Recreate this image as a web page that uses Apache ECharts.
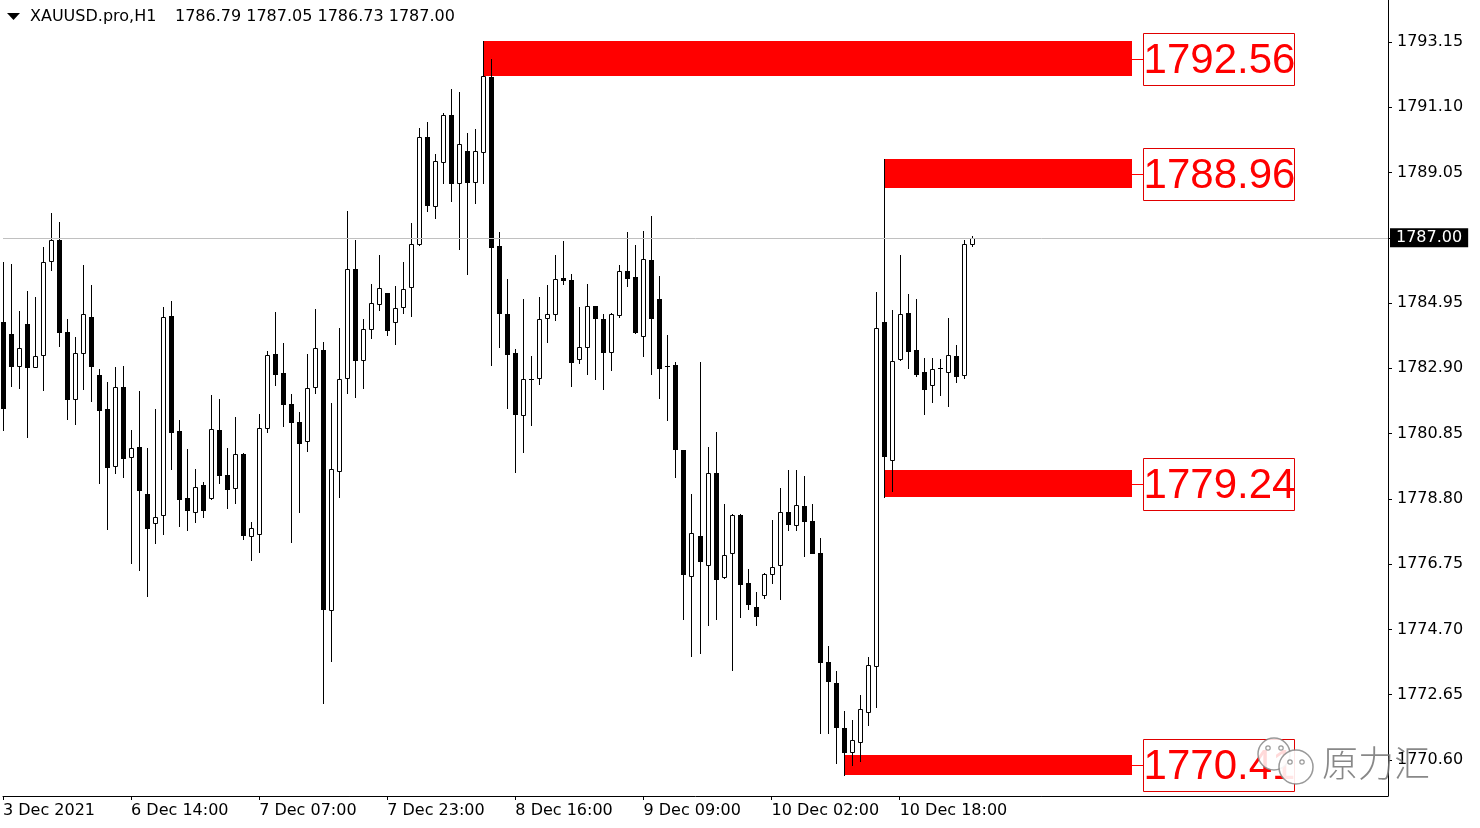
<!DOCTYPE html>
<html><head><meta charset="utf-8">
<script src="https://cdn.jsdelivr.net/npm/echarts@6/dist/echarts.min.js"></script>
<style>html,body{margin:0;padding:0;background:#fff}#c{width:1480px;height:828px}</style>
</head><body><div id="c"></div>
<script>
const symbolName = 'XAUUSD.pro,H1';
const xTickLabels = ['3 Dec 2021','6 Dec 14:00','7 Dec 07:00','7 Dec 23:00','8 Dec 16:00','9 Dec 09:00','10 Dec 02:00','10 Dec 18:00'];
const barsPerTick = 16;
const slotCount = 174;
const yTicks = [1770.60,1772.65,1774.70,1776.75,1778.80,1780.85,1782.90,1784.95,1787.00,1789.05,1791.10,1793.15];

const opens = [
1784.36,1783.97,1782.98,1784.29,1782.95,1783.33,1786.26,1786.93,1784.04,1781.93,
1783.37,1784.51,1782.69,1781.62,1779.84,1782.30,1780.11,1780.43,1778.95,1778.03,
1778.29,1784.54,1780.93,1778.82,1778.40,1779.24,1778.82,1780.96,1779.54,1779.13,
1780.21,1777.63,1777.69,1781.04,1783.35,1782.75,1781.78,1781.22,1780.61,1782.32,
1783.48,1775.31,1779.69,1782.59,1786.01,1783.16,1784.15,1784.91,1785.27,1784.34,
1784.82,1785.45,1786.80,1790.18,1788.01,1789.37,1790.85,1788.73,1789.72,1788.74,
1789.68,1792.04,1786.74,1784.61,1783.38,1781.43,1782.57,1782.59,1784.47,1784.60,
1785.73,1785.68,1783.18,1783.56,1784.86,1784.45,1783.40,1784.59,1785.96,1785.77,
1783.93,1786.30,1785.08,1782.97,1783.01,1780.34,1776.38,1777.63,1776.71,1779.60,
1776.34,1777.09,1778.29,1776.15,1775.40,1775.77,1776.43,1776.71,1778.38,1777.97,
1778.58,1778.10,1777.09,1773.69,1773.02,1771.61,1770.85,1771.17,1772.12,1773.55,
1784.34,1780.02,1783.18,1784.64,1783.49,1782.80,1782.38,1782.91,1782.79,1783.30,
1782.70,1786.79];
const highs = [
1786.24,1786.18,1784.70,1785.33,1785.14,1786.71,1787.78,1787.50,1784.45,1783.89,
1786.15,1785.52,1782.87,1782.47,1782.95,1782.98,1780.96,1782.19,1780.39,1781.62,
1784.83,1785.02,1781.28,1780.38,1779.75,1779.33,1782.06,1781.94,1780.40,1781.37,
1780.23,1778.07,1781.47,1783.44,1784.67,1783.69,1782.09,1781.53,1783.36,1784.77,
1783.74,1781.80,1784.16,1787.85,1786.93,1784.45,1785.56,1786.46,1785.27,1785.49,
1786.24,1787.46,1790.45,1790.64,1789.62,1790.93,1791.66,1791.57,1790.29,1790.41,
1793.18,1792.63,1787.18,1785.71,1783.51,1785.08,1783.30,1785.14,1785.52,1786.46,
1786.90,1785.86,1784.84,1785.55,1784.86,1784.60,1784.63,1786.15,1787.17,1786.77,
1787.21,1787.69,1785.80,1783.95,1783.10,1780.34,1778.94,1783.11,1780.42,1780.90,
1778.64,1778.33,1778.32,1776.60,1775.88,1776.46,1778.13,1779.14,1779.70,1779.71,
1779.52,1778.64,1777.56,1774.18,1773.40,1772.14,1771.85,1772.64,1773.82,1785.30,
1789.46,1784.72,1786.46,1785.24,1785.09,1783.23,1783.23,1783.20,1784.49,1783.63,
1786.93,1787.05];
const lows = [
1780.96,1782.35,1782.27,1780.75,1782.94,1782.22,1785.99,1783.61,1781.32,1781.16,
1782.26,1781.88,1779.31,1777.85,1779.62,1779.50,1776.78,1776.57,1775.76,1777.41,
1777.69,1779.73,1777.96,1777.82,1778.08,1778.24,1778.79,1779.31,1778.52,1778.68,
1777.55,1776.89,1777.14,1780.91,1782.38,1781.10,1777.46,1778.40,1780.31,1782.14,
1772.38,1773.72,1778.87,1782.11,1781.99,1782.27,1783.84,1784.73,1783.94,1783.67,
1784.63,1784.53,1786.78,1787.83,1787.61,1788.73,1788.17,1786.66,1785.85,1788.09,
1788.73,1782.99,1783.57,1781.66,1779.65,1780.28,1781.12,1782.42,1783.74,1784.43,
1785.54,1782.35,1783.06,1782.72,1782.57,1782.26,1782.85,1784.52,1785.49,1784.02,
1783.30,1782.73,1781.97,1781.28,1779.48,1775.02,1773.87,1773.95,1774.83,1775.02,
1776.31,1773.43,1775.08,1775.33,1774.83,1775.69,1776.15,1775.66,1777.83,1777.83,
1777.02,1777.09,1771.44,1771.46,1770.50,1770.12,1770.44,1770.56,1771.70,1772.26,
1778.86,1779.04,1783.15,1782.92,1782.65,1781.47,1781.85,1782.07,1781.73,1782.46,
1782.60,1786.73];
const closes = [
1781.65,1782.98,1783.53,1782.95,1783.29,1786.24,1786.92,1784.05,1781.95,1783.37,
1784.60,1782.98,1781.60,1779.79,1782.30,1780.07,1780.39,1779.07,1777.88,1778.22,
1784.50,1780.89,1778.79,1778.44,1779.16,1778.46,1780.99,1779.56,1779.12,1780.20,
1777.68,1777.88,1781.02,1783.31,1782.73,1781.79,1781.22,1780.56,1782.27,1783.54,
1775.33,1779.73,1782.56,1786.01,1783.17,1784.15,1784.95,1785.42,1784.11,1784.81,
1785.39,1786.80,1790.18,1788.04,1789.40,1790.85,1788.73,1789.94,1788.76,1789.72,
1792.07,1786.70,1784.64,1783.34,1781.48,1782.56,1782.55,1784.45,1784.60,1785.71,
1785.68,1783.11,1783.57,1784.86,1784.47,1783.42,1784.61,1785.96,1785.75,1784.04,
1786.33,1784.47,1782.92,1782.96,1780.36,1776.43,1777.72,1776.84,1779.60,1776.27,
1777.04,1778.29,1776.12,1775.49,1775.13,1776.43,1776.65,1778.40,1778.00,1778.60,
1778.11,1777.09,1773.69,1773.09,1771.64,1770.85,1771.22,1772.20,1773.59,1784.16,
1780.15,1783.14,1784.60,1783.45,1782.71,1782.25,1782.89,1782.90,1783.32,1782.67,
1786.80,1787.00];

const zoneStart = [60, 110, 110, 105];
const zoneHigh  = [1793.18, 1789.48, 1779.71, 1770.75];
const zoneLow   = [1792.07, 1788.56, 1778.86, 1770.12];
const zoneLabel = ['1792.56', '1788.96', '1779.24', '1770.41'];

const categories = [];
for (let i = 0; i < slotCount; i++) {
  const t = i / barsPerTick;
  categories.push(i % barsPerTick === 0 && t < xTickLabels.length ? xTickLabels[t] : '');
}
const isTick = (i) => i % barsPerTick === 0 && i / barsPerTick < xTickLabels.length;

const candleData = opens.map((o, i) => [i, o, closes[i], lows[i], highs[i]]);
const zoneData = zoneStart.map((s, i) => [s, zoneLow[i], zoneHigh[i]]);
const n = closes.length - 1;
const headerValues = [opens[n], highs[n], lows[n], closes[n]].map(v => v.toFixed(2)).join(' ');

function renderCandle(params, api) {
  const i = api.value(0), o = api.value(1), c = api.value(2), l = api.value(3), h = api.value(4);
  const pO = api.coord([i, o]), pC = api.coord([i, c]), pL = api.coord([i, l]), pH = api.coord([i, h]);
  const x = Math.round(pO[0]);
  const top = Math.round(Math.min(pO[1], pC[1])), bot = Math.round(Math.max(pO[1], pC[1]));
  const children = [{type: 'line', shape: {x1: x + 0.5, y1: Math.round(pH[1]), x2: x + 0.5, y2: Math.round(pL[1]) + 1},
    style: {stroke: '#000', lineWidth: 1}}];
  if (c > o) {
    children.push({type: 'rect', shape: {x: x - 1.5, y: top + 0.5, width: 4, height: Math.max(bot - top, 1)},
      style: {fill: '#fff', stroke: '#000', lineWidth: 1}});
  } else {
    children.push({type: 'rect', shape: {x: x - 2, y: top, width: 5, height: Math.max(bot - top, 0) + 1},
      style: {fill: '#000'}});
  }
  return {type: 'group', children};
}

function renderZone(params, api) {
  const s = api.value(0), lo = api.value(1), hi = api.value(2);
  const cs = params.coordSys;
  const pT = api.coord([s, hi]), pB = api.coord([s, lo]);
  const xEnd = Math.round(cs.x + cs.width - 257);
  const x0 = Math.round(pT[0]);
  const yT = Math.round(pT[1]), yB = Math.round(pB[1]);
  const mid = Math.round((yT + yB) / 2);
  const bx = xEnd + 12, bw = 151, bh = 52;
  return {type: 'group', children: [
    {type: 'rect', shape: {x: x0, y: yT, width: xEnd - x0 + 1, height: yB - yT}, style: {fill: '#ff0000'}},
    {type: 'line', shape: {x1: xEnd, y1: mid + 0.5, x2: bx, y2: mid + 0.5}, style: {stroke: '#ff0000', lineWidth: 1}},
    {type: 'rect', shape: {x: bx + 0.5, y: mid - bh / 2 + 0.5, width: bw, height: bh},
      style: {fill: '#fff', stroke: '#e00000', lineWidth: 1}},
    {type: 'text', x: bx + bw / 2 + 1, y: mid + 2,
      style: {text: zoneLabel[params.dataIndex], fill: '#ff0000', font: '42px "Liberation Sans"',
        align: 'center', verticalAlign: 'middle', textAlign: 'center', textVerticalAlign: 'middle'}}
  ]};
}

const axisFont = {fontSize: 16, fontFamily: '"DejaVu Sans"', color: '#000'};
const wmStroke = 'rgba(135,135,135,0.85)';
const wm = (el) => Object.assign({zlevel: 5, z: 100}, el);

const option = {
  animation: false,
  backgroundColor: '#fff',
  grid: {left: 3, right: 92, top: 0, bottom: 32, containLabel: false, outerBoundsMode: 'none'},
  xAxis: {
    type: 'category', data: categories, boundaryGap: false,
    axisLine: {show: true, lineStyle: {color: '#000', width: 1}},
    axisTick: {show: true, interval: isTick, length: 4, lineStyle: {color: '#000'}},
    axisLabel: Object.assign({show: true, interval: isTick, align: 'left', margin: 7, hideOverlap: false}, axisFont),
    splitLine: {show: false}
  },
  yAxis: {
    type: 'value', position: 'right', min: 1769.468, max: 1794.469, scale: true,
    axisLine: {show: true, lineStyle: {color: '#000', width: 1}},
    axisTick: {show: true, customValues: yTicks, length: 4, lineStyle: {color: '#000'}},
    axisLabel: Object.assign({show: true, customValues: yTicks, margin: 9, padding: [4, 0, 0, 0],
      formatter: v => Number(v).toFixed(2)}, axisFont),
    splitLine: {show: false}
  },
  series: [
    {type: 'custom', name: 'zones', z: 1, data: zoneData, encode: {x: 0, y: [1, 2]}, renderItem: renderZone, silent: true},
    {type: 'custom', name: 'candles', z: 2, data: candleData, encode: {x: 0, y: [1, 2, 3, 4]}, renderItem: renderCandle,
      markLine: {silent: true, symbol: ['none', 'none'], animation: false,
        lineStyle: {color: '#c0c0c0', width: 1, type: 'solid'},
        label: {show: true, position: 'end', distance: 2, formatter: p => Number(p.value).toFixed(2),
          color: '#fff', backgroundColor: '#000', padding: [2, 6, 1, 6], fontSize: 16, fontFamily: '"DejaVu Sans"'},
        data: [{yAxis: closes[n]}]}
    }
  ],
  graphic: [
    {type: 'polygon', shape: {points: [[7, 13], [20, 13], [13.5, 20]]}, style: {fill: '#000'}},
    {type: 'text', left: 30, top: 9, style: {text: symbolName, font: '16px "DejaVu Sans"', fill: '#000'}},
    {type: 'text', left: 175, top: 9, style: {text: headerValues, font: '16px "DejaVu Sans"', fill: '#000'}},
    wm({type: 'circle', shape: {cx: 1274, cy: 754, r: 16}, style: {fill: 'rgba(255,255,255,0.85)', stroke: wmStroke, lineWidth: 1.5}}),
    wm({type: 'circle', shape: {cx: 1268, cy: 748, r: 2.2}, style: {fill: 'none', stroke: wmStroke, lineWidth: 1.2}}),
    wm({type: 'circle', shape: {cx: 1281, cy: 748, r: 2.2}, style: {fill: 'none', stroke: wmStroke, lineWidth: 1.2}}),
    wm({type: 'circle', shape: {cx: 1296, cy: 767, r: 17}, style: {fill: 'rgba(255,255,255,0.9)', stroke: wmStroke, lineWidth: 1.5}}),
    wm({type: 'circle', shape: {cx: 1290, cy: 762, r: 2.2}, style: {fill: 'none', stroke: wmStroke, lineWidth: 1.2}}),
    wm({type: 'circle', shape: {cx: 1302, cy: 762, r: 2.2}, style: {fill: 'none', stroke: wmStroke, lineWidth: 1.2}}),
    wm({type: 'text', x: 1322, y: 763, style: {text: '原力汇', font: '300 36px "Noto Sans CJK SC"', fill: 'rgba(115,115,115,0.85)',
      verticalAlign: 'middle', textVerticalAlign: 'middle'}})
  ]
};
const chart = echarts.init(document.getElementById('c'));
chart.setOption(option);
</script></body></html>
